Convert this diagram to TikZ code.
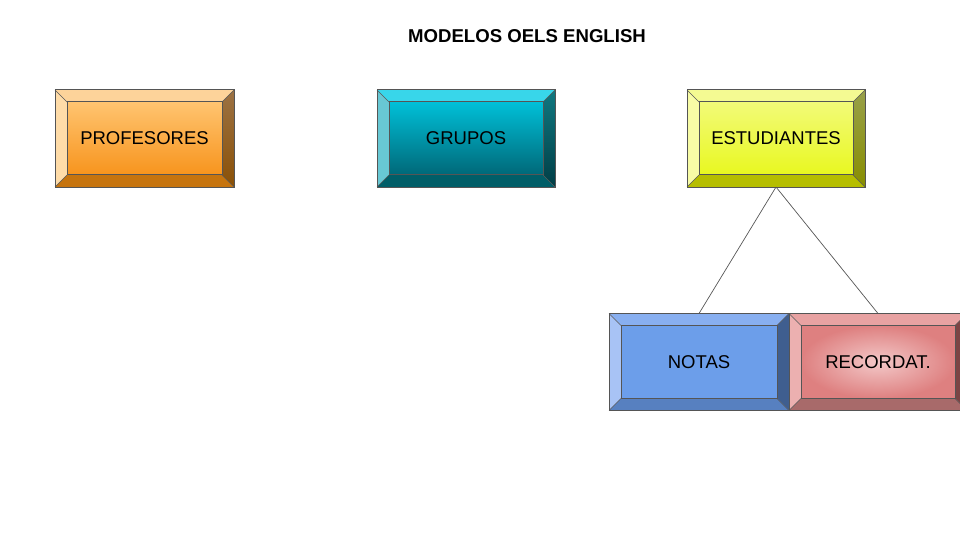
\documentclass[tikz,border=0pt]{standalone}
\usepackage{fontspec}
\setmainfont{Liberation Sans}
\usepackage{tikz}
\usetikzlibrary{positioning}

% colours of the bevels: top, left, right (top and bottom end), bottom
\definecolor{profTop}{HTML}{FDD39A}
\definecolor{profLeft}{HTML}{FFDCA8}
\definecolor{profRight}{HTML}{9C7244}
\definecolor{profRightEnd}{HTML}{8A5006}
\definecolor{profBottom}{HTML}{C6740E}
\definecolor{grupTop}{HTML}{38D6EA}
\definecolor{grupLeft}{HTML}{68C8D4}
\definecolor{grupRight}{HTML}{107880}
\definecolor{grupRightEnd}{HTML}{003E46}
\definecolor{grupBottom}{HTML}{005E68}
\definecolor{estTop}{HTML}{F4FA92}
\definecolor{estLeft}{HTML}{F8FCA6}
\definecolor{estRight}{HTML}{98A04A}
\definecolor{estRightEnd}{HTML}{888E00}
\definecolor{estBottom}{HTML}{B6BE00}
\definecolor{notTop}{HTML}{88AFF0}
\definecolor{notLeft}{HTML}{A8C3F5}
\definecolor{notRight}{HTML}{3F5E8F}
\definecolor{notRightEnd}{HTML}{3F5E8F}
\definecolor{notBottom}{HTML}{5780C0}
\definecolor{recTop}{HTML}{E8A2A2}
\definecolor{recLeft}{HTML}{ECB0B0}
\definecolor{recRight}{HTML}{7C4444}
\definecolor{recRightEnd}{HTML}{7C4444}
\definecolor{recBottom}{HTML}{A86A6A}
\definecolor{edge}{HTML}{555555}

\tikzset{
  outer box/.style={draw=edge, line width=1pt, inner sep=0pt, outer sep=0pt,
    minimum width=179pt, minimum height=97pt},
  inner box/.style={draw=edge, line width=1pt, inner sep=0pt, outer sep=0pt,
    minimum width=155pt, minimum height=73pt, font=\fontsize{18.5}{22}\selectfont},
  prof face/.style={top color={rgb,255:red,255;green,196;blue,112}, bottom color={rgb,255:red,247;green,148;blue,29}},
  grup face/.style={top color={rgb,255:red,0;green,192;blue,216}, bottom color={rgb,255:red,0;green,104;blue,120}},
  est face/.style={top color={rgb,255:red,242;green,250;blue,120}, bottom color={rgb,255:red,232;green,248;blue,32}},
  not face/.style={fill={rgb,255:red,108;green,158;blue,234}},
  rec face/.style={inner color={rgb,255:red,243;green,200;blue,200}, outer color={rgb,255:red,222;green,128;blue,128}},
}

% #1 name, #2 prefix of colours, #3 centre, #4 width, #5 text
\newcommand{\bevelbox}[5]{%
  \node[outer box, minimum width=#4pt] (#1) at (#3) {};
  \fill[#2Top] (#1.north west) -- (#1.north east) -- ([xshift=-12pt,yshift=-12pt]#1.north east) -- ([xshift=12pt,yshift=-12pt]#1.north west) -- cycle;
  \fill[#2Left] (#1.north west) -- ([xshift=12pt,yshift=-12pt]#1.north west) -- ([xshift=12pt,yshift=12pt]#1.south west) -- (#1.south west) -- cycle;
  \shade[top color=#2Right, bottom color=#2RightEnd] (#1.north east) -- ([xshift=-12pt,yshift=-12pt]#1.north east) -- ([xshift=-12pt,yshift=12pt]#1.south east) -- (#1.south east) -- cycle;
  \fill[#2Bottom] (#1.south west) -- ([xshift=12pt,yshift=12pt]#1.south west) -- ([xshift=-12pt,yshift=12pt]#1.south east) -- (#1.south east) -- cycle;
  \draw[edge, line width=0.6pt] (#1.north west) -- ++(12pt,-12pt) (#1.north east) -- ++(-12pt,-12pt)
    (#1.south west) -- ++(12pt,12pt) (#1.south east) -- ++(-12pt,12pt);
  \node[outer box, minimum width=#4pt] at (#3) {};
  \node[inner box, #2 face, minimum width=#4pt-24pt] (#1-in) at (#3) {#5};
}

\begin{document}
\begin{tikzpicture}[x=1pt, y=-1pt]
  \useasboundingbox (0,0) rectangle (960,540);

  \node[font=\bfseries\fontsize{18.6}{22}\selectfont] (title) at (527,36) {MODELOS OELS ENGLISH};

  \bevelbox{profesores}{prof}{144.5,138.5}{179}{PROFESORES}
  \bevelbox{grupos}{grup}{466,138.5}{178}{GRUPOS}
  \bevelbox{estudiantes}{est}{776,138.5}{178}{ESTUDIANTES}
  \bevelbox{notas}{not}{699,362}{180}{NOTAS}
  \bevelbox{recordat}{rec}{878,362}{178}{RECORDAT.}

  \draw[edge, line width=0.7pt] (estudiantes.south) -- (notas.north);
  \draw[edge, line width=0.7pt] (estudiantes.south) -- (recordat.north);
\end{tikzpicture}
\end{document}
